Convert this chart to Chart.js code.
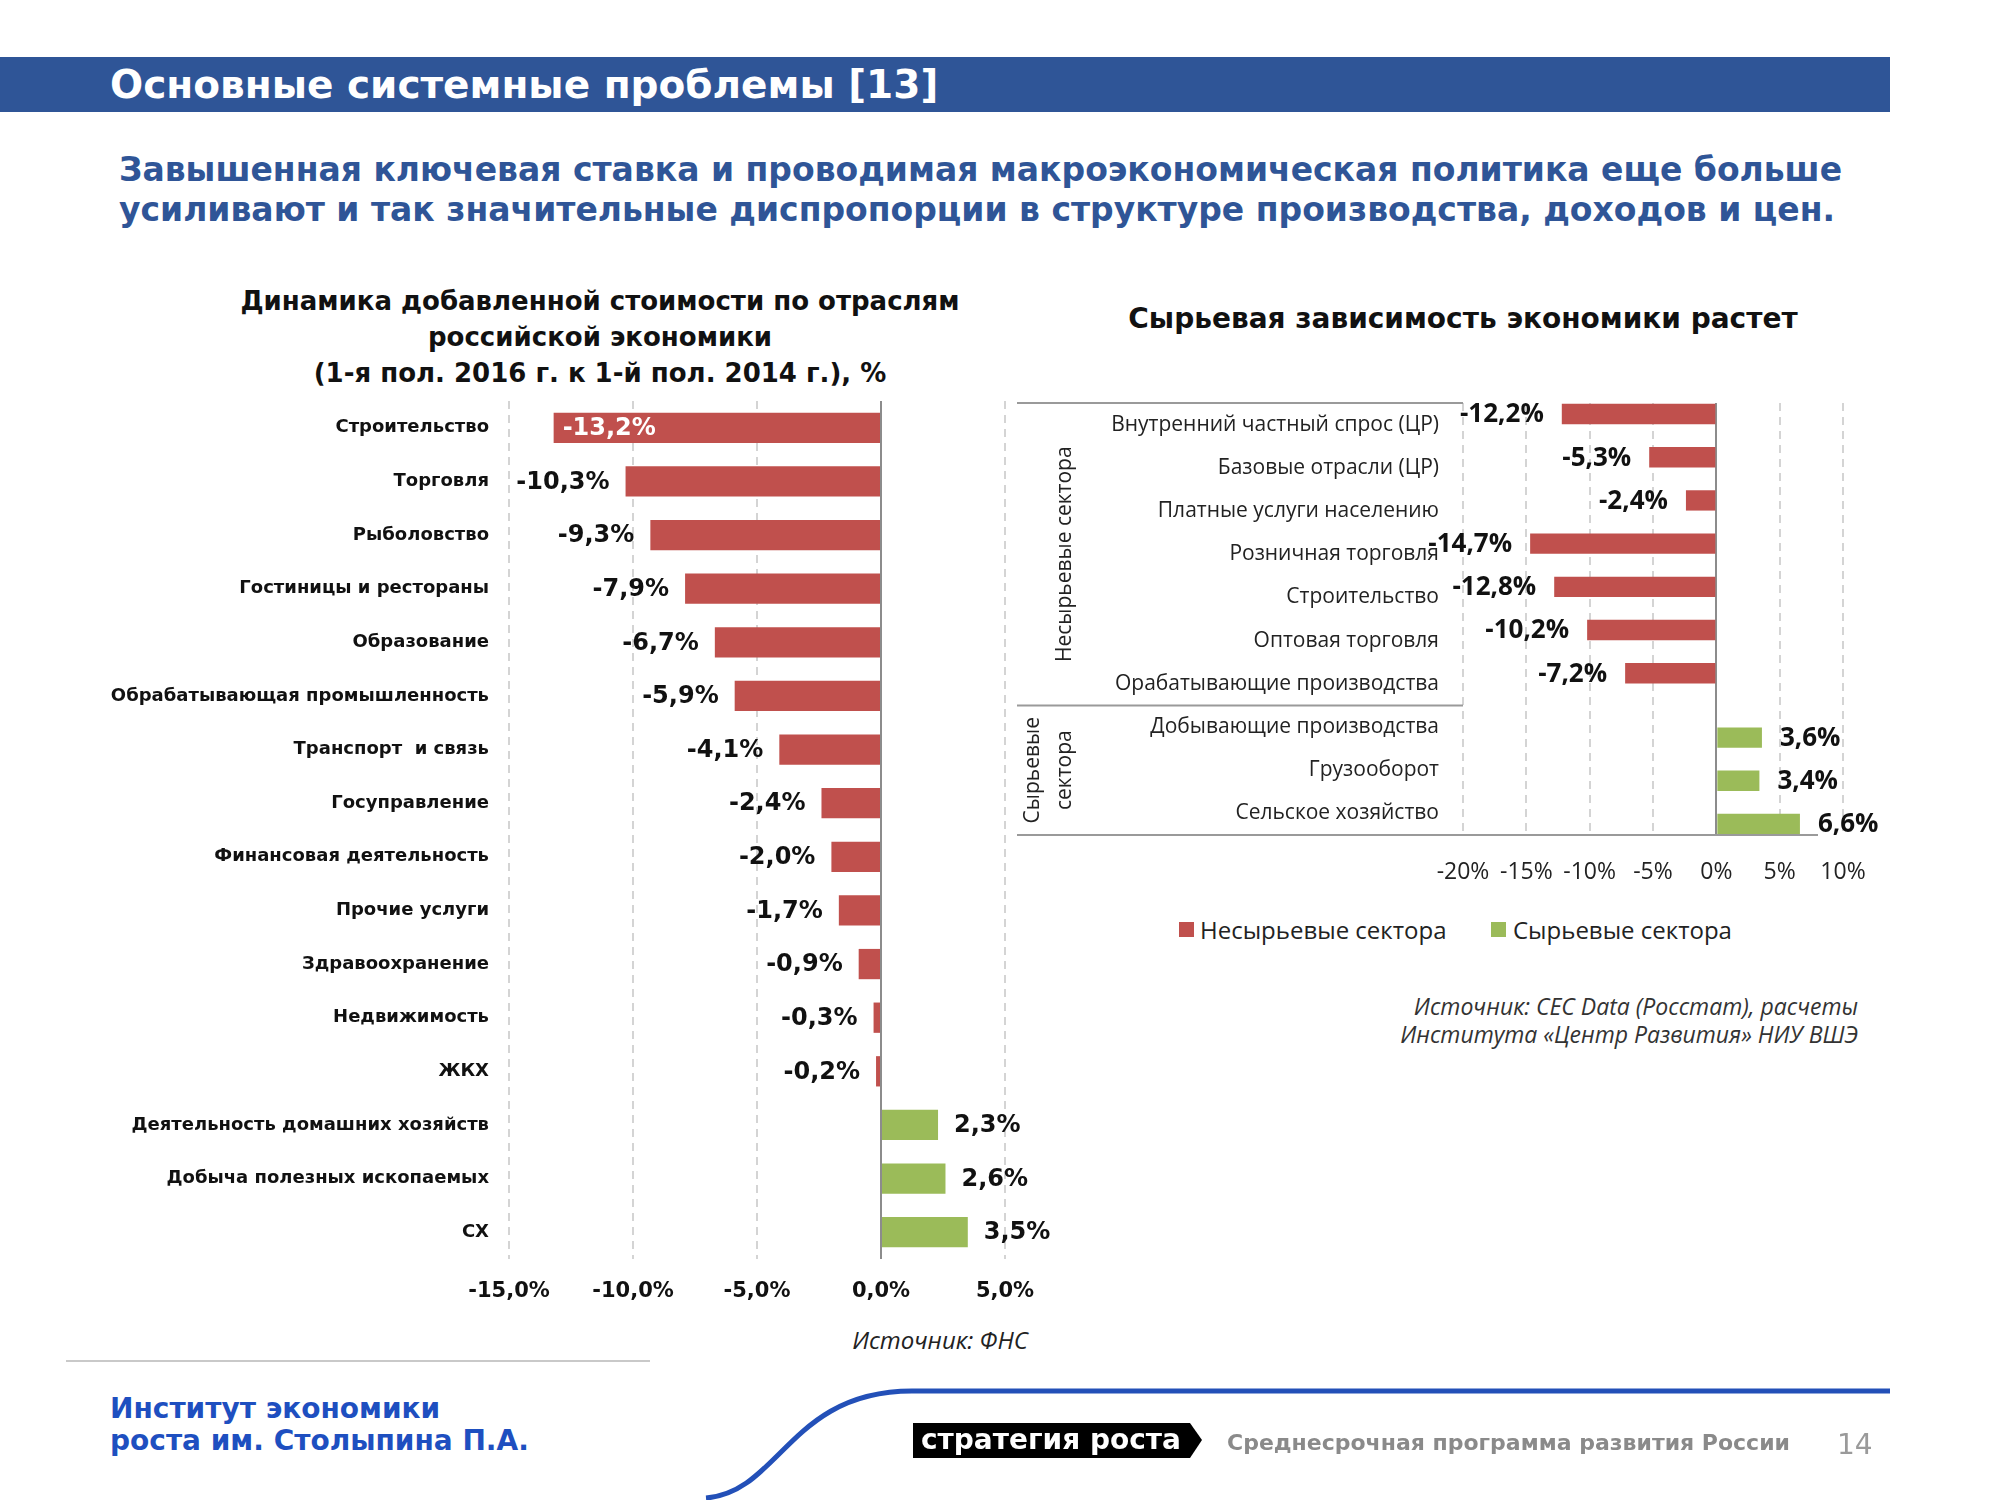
<!DOCTYPE html>
<html lang="ru">
<head>
<meta charset="utf-8">
<title>Основные системные проблемы [13]</title>
<script src="https://cdn.jsdelivr.net/npm/chart.js@4.4.1/dist/chart.umd.min.js"></script>
<style>
  html, body { margin: 0; padding: 0; background: #fff; }
  #page { position: relative; width: 2000px; height: 1500px; overflow: hidden; font-family: "DejaVu Sans", sans-serif; }
  .abs { position: absolute; white-space: nowrap; }
  canvas { position: absolute; }
</style>
</head>
<body>
<div id="page">
  <!-- header band -->
  <div class="abs" style="left:0;top:57px;width:1890px;height:55px;background:#2F5597"></div>
  <div class="abs" style="left:110px;top:61px;font:bold 39px/48px 'DejaVu Sans';color:#fff">Основные системные проблемы [13]</div>

  <div class="abs" style="left:119px;top:150px;font:bold 33px/40px 'DejaVu Sans';color:#2F5597">Завышенная ключевая ставка и проводимая макроэкономическая политика еще больше<br>усиливают и так значительные диспропорции в структуре производства, доходов и цен.</div>

  <!-- chart titles -->
  <div class="abs" style="left:150px;width:900px;top:283px;text-align:center;font:bold 26px/36px 'DejaVu Sans';color:#111">Динамика добавленной стоимости по отраслям<br>российской экономики<br>(1-я пол. 2016 г. к 1-й пол. 2014 г.), %</div>
  <div class="abs" style="left:1013px;width:900px;top:301px;text-align:center;font:bold 28px/36px 'DejaVu Sans';color:#111">Сырьевая зависимость экономики растет</div>

  <canvas id="leftChart" width="1075" height="919" style="left:0;top:395px"></canvas>
  <canvas id="rightChart" width="900" height="500" style="left:1000px;top:395px"></canvas>

  <!-- legend of the right chart -->
  <div class="abs" style="left:1179px;top:922px;width:15px;height:15px;background:#C0504D"></div>
  <div class="abs" style="left:1200px;top:914px;font:24px/32px 'Open Sans';color:#222">Несырьевые сектора</div>
  <div class="abs" style="left:1491px;top:922px;width:15px;height:15px;background:#9BBB59"></div>
  <div class="abs" style="left:1513px;top:914px;font:24px/32px 'Open Sans';color:#222">Сырьевые сектора</div>

  <div class="abs" style="right:142px;top:992px;text-align:right;font:italic 23px/28px 'Open Sans';color:#333">Источник: CEC Data (Росстат), расчеты<br>Института «Центр Развития» НИУ ВШЭ</div>
  <div class="abs" style="left:790px;width:300px;top:1324px;text-align:center;font:italic 24px/32px 'Open Sans';color:#222">Источник: ФНС</div>

  <!-- footer -->
  <div class="abs" style="left:66px;top:1360px;width:584px;height:140px;border-top:2px solid #c9c9c9;background:#fff"></div>
  <div class="abs" style="left:110px;top:1393px;font:bold 28px/32px 'DejaVu Sans';color:#1E4FC0">Институт экономики<br>роста им. Столыпина П.А.</div>
  <svg class="abs" width="2000" height="1500" style="left:0;top:0;pointer-events:none">
    <path d="M 706 1498 C 780 1492, 790 1391, 912 1391 L 1890 1391" fill="none" stroke="#2350B8" stroke-width="5"/>
    <polygon points="913,1423 1190,1423 1202,1440 1190,1458 913,1458" fill="#000"/>
  </svg>
  <div class="abs" style="left:921px;top:1423px;font:bold 28px/34px 'DejaVu Sans';color:#fff">стратегия роста</div>
  <div class="abs" style="left:1227px;top:1429px;font:bold 22px/28px 'DejaVu Sans';color:#8a8a8a">Среднесрочная программа развития России</div>
  <div class="abs" style="left:1837px;top:1428px;font:28px/34px 'DejaVu Sans';color:#9a9a9a">14</div>
</div>

<script>
// ---- left chart data: value added by industry, %
const leftCategories = [
  'Строительство', 'Торговля', 'Рыболовство', 'Гостиницы и рестораны', 'Образование',
  'Обрабатывающая промышленность', 'Транспорт  и связь', 'Госуправление',
  'Финансовая деятельность', 'Прочие услуги', 'Здравоохранение', 'Недвижимость', 'ЖКХ',
  'Деятельность домашних хозяйств', 'Добыча полезных ископаемых', 'СХ'
];
const leftValues = [-13.2, -10.3, -9.3, -7.9, -6.7, -5.9, -4.1, -2.4, -2.0, -1.7, -0.9, -0.3, -0.2, 2.3, 2.6, 3.5];
const leftTicks = [-15, -10, -5, 0, 5];

// ---- right chart data
const rightCategories = [
  'Внутренний частный спрос (ЦР)', 'Базовые отрасли (ЦР)', 'Платные услуги населению',
  'Розничная торговля', 'Строительство', 'Оптовая торговля', 'Орабатывающие производства',
  'Добывающие производства', 'Грузооборот', 'Сельское хозяйство'
];
const nonRawValues = [-12.2, -5.3, -2.4, -14.7, -12.8, -10.2, -7.2, null, null, null];
const rawValues = [null, null, null, null, null, null, null, 3.6, 3.4, 6.6];
const rightTicks = [-20, -15, -10, -5, 0, 5, 10];
const groupNames = [['Несырьевые сектора'], ['Сырьевые', 'сектора']];

const RED = '#C0504D';
const GREEN = '#9BBB59';

function pct1(v) { return v.toFixed(1).replace('.', ',') + '%'; }
function pct0(v) { return v + '%'; }

// value labels next to the bars
const barLabels = {
  id: 'barLabels',
  afterDatasetsDraw(chart, args, opts) {
    const ctx = chart.ctx;
    const area = chart.chartArea;
    ctx.save();
    ctx.font = opts.font;
    ctx.textBaseline = 'middle';
    chart.data.datasets.forEach((ds, di) => {
      const meta = chart.getDatasetMeta(di);
      meta.data.forEach((bar, i) => {
        const v = ds.data[i];
        if (v == null) return;
        const text = opts.format(v);
        const w = ctx.measureText(text).width;
        let x, align = 'left', color = '#111';
        if (v < 0) {
          x = bar.x - opts.gap; align = 'right';
          if (opts.inside && x - w < area.left) { x = bar.x + opts.insideGap; align = 'left'; color = '#fff'; }
        } else {
          x = bar.x + opts.gap;
        }
        ctx.textAlign = align;
        ctx.fillStyle = color;
        ctx.fillText(text, x, bar.y + 1);
      });
    });
    ctx.restore();
  }
};

// group frame + rotated group names for the right chart
const groupFrame = {
  id: 'groupFrame',
  afterDraw(chart, args, opts) {
    const ctx = chart.ctx;
    const a = chart.chartArea;
    const y = chart.scales.y;
    const sepY = (y.getPixelForValue(6) + y.getPixelForValue(7)) / 2;
    ctx.save();
    ctx.strokeStyle = '#9a9a9a';
    ctx.lineWidth = 2;
    ctx.beginPath();
    ctx.moveTo(opts.left, a.top); ctx.lineTo(a.left, a.top);
    ctx.moveTo(opts.left, sepY); ctx.lineTo(a.left, sepY);
    ctx.moveTo(opts.left, a.bottom); ctx.lineTo(a.right - 25, a.bottom);
    ctx.stroke();

    ctx.fillStyle = '#222';
    ctx.font = '21px "Open Sans"';
    ctx.textAlign = 'center';
    ctx.textBaseline = 'middle';
    const spans = [[a.top, sepY], [sepY, a.bottom]];
    groupNames.forEach((lines, g) => {
      const cy = (spans[g][0] + spans[g][1]) / 2;
      lines.forEach((line, k) => {
        const cx = opts.textX - (lines.length - 1 - k) * 32;
        ctx.save();
        ctx.translate(cx, cy);
        ctx.rotate(-Math.PI / 2);
        ctx.fillText(line, 0, 0);
        ctx.restore();
      });
    });
    ctx.restore();
  }
};

function gridColor(c) { return c.tick && c.tick.value === 0 ? '#8c8c8c' : '#d4d4d4'; }
function gridDash(c) { return c.tick && c.tick.value === 0 ? [] : [8, 6]; }

// fixed axis sizes so the plot areas land where the slide has them
function fixY(width) {
  return s => { s.width = width; s.paddingTop = 0; s.paddingBottom = 0; };
}
function fixX(height) {
  return s => { s.height = height; s.paddingLeft = 0; s.paddingRight = 0; };
}

new Chart(document.getElementById('leftChart'), {
  type: 'bar',
  data: {
    labels: leftCategories,
    datasets: [{
      data: leftValues,
      backgroundColor: leftValues.map(v => v < 0 ? RED : GREEN),
      borderWidth: 0,
      categoryPercentage: 1,
      barPercentage: 0.565
    }]
  },
  plugins: [barLabels],
  options: {
    indexAxis: 'y',
    responsive: false,
    maintainAspectRatio: false,
    animation: false,
    layout: { padding: { top: 6, right: 70, left: 0, bottom: 0 } },
    plugins: {
      legend: { display: false },
      tooltip: { enabled: false },
      barLabels: { font: 'bold 24px "DejaVu Sans"', gap: 16, inside: true, insideGap: 9, format: pct1 }
    },
    scales: {
      x: {
        min: leftTicks[0], max: leftTicks[leftTicks.length - 1],
        afterBuildTicks: s => { s.ticks = leftTicks.map(v => ({ value: v })); },
        afterFit: fixX(55),
        grid: { color: gridColor, lineWidth: 2, drawTicks: false },
        border: { display: false, dash: gridDash },
        ticks: { padding: 20, color: '#111', font: { family: 'DejaVu Sans', weight: 'bold', size: 21 }, callback: v => pct1(v) }
      },
      y: {
        afterFit: fixY(509),
        grid: { display: false, drawTicks: false },
        border: { display: false },
        ticks: { padding: 20, autoSkip: false, color: '#111', font: { family: 'DejaVu Sans', weight: 'bold', size: 18 } }
      }
    }
  }
});

new Chart(document.getElementById('rightChart'), {
  type: 'bar',
  data: {
    labels: rightCategories,
    datasets: [
      { label: 'Несырьевые сектора', data: nonRawValues, backgroundColor: RED, borderWidth: 0, categoryPercentage: 0.98, barPercentage: 0.96 },
      { label: 'Сырьевые сектора', data: rawValues, backgroundColor: GREEN, borderWidth: 0, categoryPercentage: 0.98, barPercentage: 0.96 }
    ]
  },
  plugins: [barLabels, groupFrame],
  options: {
    indexAxis: 'y',
    responsive: false,
    maintainAspectRatio: false,
    animation: false,
    layout: { padding: { top: 8, right: 57, left: 0, bottom: 0 } },
    plugins: {
      legend: { display: false },
      tooltip: { enabled: false },
      barLabels: { font: 'bold 26px "Open Sans"', gap: 18, inside: false, insideGap: 0, format: pct1 },
      groupFrame: { left: 17, textX: 65 }
    },
    scales: {
      x: {
        min: rightTicks[0], max: rightTicks[rightTicks.length - 1],
        afterBuildTicks: s => { s.ticks = rightTicks.map(v => ({ value: v })); },
        afterFit: fixX(60),
        grid: { color: gridColor, lineWidth: 2, drawTicks: false },
        border: { display: false, dash: gridDash },
        ticks: { padding: 24, color: '#222', font: { family: 'Open Sans', size: 23 }, callback: v => pct0(v) }
      },
      y: {
        afterFit: fixY(463),
        grid: { display: false, drawTicks: false },
        border: { display: false },
        ticks: { padding: 24, autoSkip: false, color: '#222', font: { family: 'Open Sans', size: 21 } }
      }
    }
  }
});
</script>
</body>
</html>
